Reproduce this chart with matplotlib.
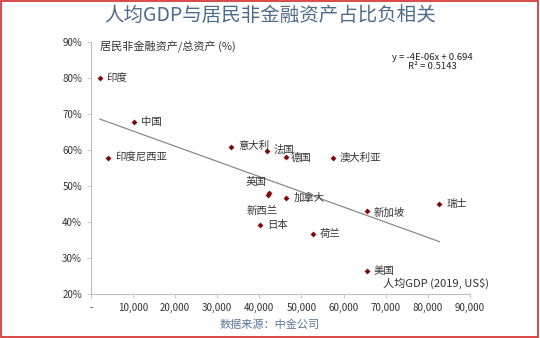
import matplotlib
matplotlib.use("Agg")
import matplotlib.pyplot as plt
import numpy as np
from matplotlib.patches import Rectangle

plt.rcParams['font.family'] = ['Noto Sans CJK SC', 'DejaVu Sans']

countries = ["印度", "中国", "印度尼西亚", "意大利", "法国", "德国", "澳大利亚",
             "英国", "新西兰", "加拿大", "日本", "荷兰", "新加坡", "瑞士", "美国"]
gdp = [2100, 10200, 4100, 33300, 41800, 46400, 57500,
       42400, 42000, 46400, 40200, 52800, 65500, 82800, 65500]
share = [80.1, 67.9, 57.9, 60.8, 59.8, 58.1, 57.9,
         48.0, 47.4, 46.7, 39.3, 36.7, 43.0, 45.1, 26.4]
xticks = [0, 10000, 20000, 30000, 40000, 50000, 60000, 70000, 80000, 90000]
xticklabels = ["-", "10,000", "20,000", "30,000", "40,000", "50,000",
               "60,000", "70,000", "80,000", "90,000"]
yticks = [20, 30, 40, 50, 60, 70, 80, 90]

# label offsets in points (dx, dy, ha)
offsets = {
    "印度": (5, 0, "left"), "中国": (5, 0, "left"), "印度尼西亚": (5, 0, "left"),
    "意大利": (5, 1, "left"), "法国": (5, 1, "left"), "德国": (3, -1, "left"),
    "澳大利亚": (5, 0, "left"), "英国": (-2, 8, "right"), "新西兰": (-4, -11, "center"),
    "加拿大": (5, 0, "left"), "日本": (5, 0, "left"), "荷兰": (5, 0, "left"),
    "新加坡": (5, -1, "left"), "瑞士": (5, 0, "left"), "美国": (5, 0, "left"),
}

fig = plt.figure(figsize=(5.4, 3.38), dpi=100)
fig.patch.set_facecolor("white")
ax = fig.add_axes([0.1685, 0.130, 0.7015, 0.746])

ax.scatter(gdp, share, marker="D", s=9, color="#7f0a0a", zorder=3, linewidths=0)

coef = np.polyfit(gdp, share, 1)
xs = np.array([min(gdp), max(gdp)])
ax.plot(xs, np.polyval(coef, xs), color="#8a8a8a", lw=0.9, zorder=2)

for c, x, y in zip(countries, gdp, share):
    dx, dy, ha = offsets[c]
    ax.annotate(c, (x, y), xytext=(dx, dy), textcoords="offset points",
                ha=ha, va="center", fontsize=7.5, color="#333333")

ax.set_xlim(0, 90000)
ax.set_ylim(20, 90)
ax.set_xticks(xticks)
ax.set_xticklabels(xticklabels)
ax.set_yticks(yticks)
ax.set_yticklabels([f"{v}%" for v in yticks])
ax.tick_params(axis="both", labelsize=7, colors="#333333", length=3, width=0.6, color="#bfbfbf")
for s in ["top", "right"]:
    ax.spines[s].set_visible(False)
for s in ["left", "bottom"]:
    ax.spines[s].set_color("#bfbfbf")
    ax.spines[s].set_linewidth(0.8)

ax.text(0.025, 0.985, "居民非金融资产/总资产 (%)", transform=ax.transAxes,
        fontsize=8, color="#333333", ha="left", va="center")
ax.text(1.05, 0.02, "人均GDP (2019, US$)", transform=ax.transAxes,
        fontsize=8, color="#333333", ha="right", va="bottom")
ax.text(0.9, 0.92, "y = -4E-06x + 0.694\nR² = 0.5143", transform=ax.transAxes,
        fontsize=6.8, color="#222222", ha="center", va="center", linespacing=1.1)

fig.text(0.5, 0.955, "人均GDP与居民非金融资产占比负相关", ha="center", va="center",
         fontsize=14, color="#4f6b8a")
fig.text(0.5, 0.038, "数据来源：中金公司", ha="center", va="center",
         fontsize=8, color="#5a7898")

fig.add_artist(Rectangle((0.002, 0.004), 0.994, 0.992, transform=fig.transFigure,
                         fill=False, edgecolor="#d42a2a", lw=1.2))

fig.savefig("out.png", dpi=100)
